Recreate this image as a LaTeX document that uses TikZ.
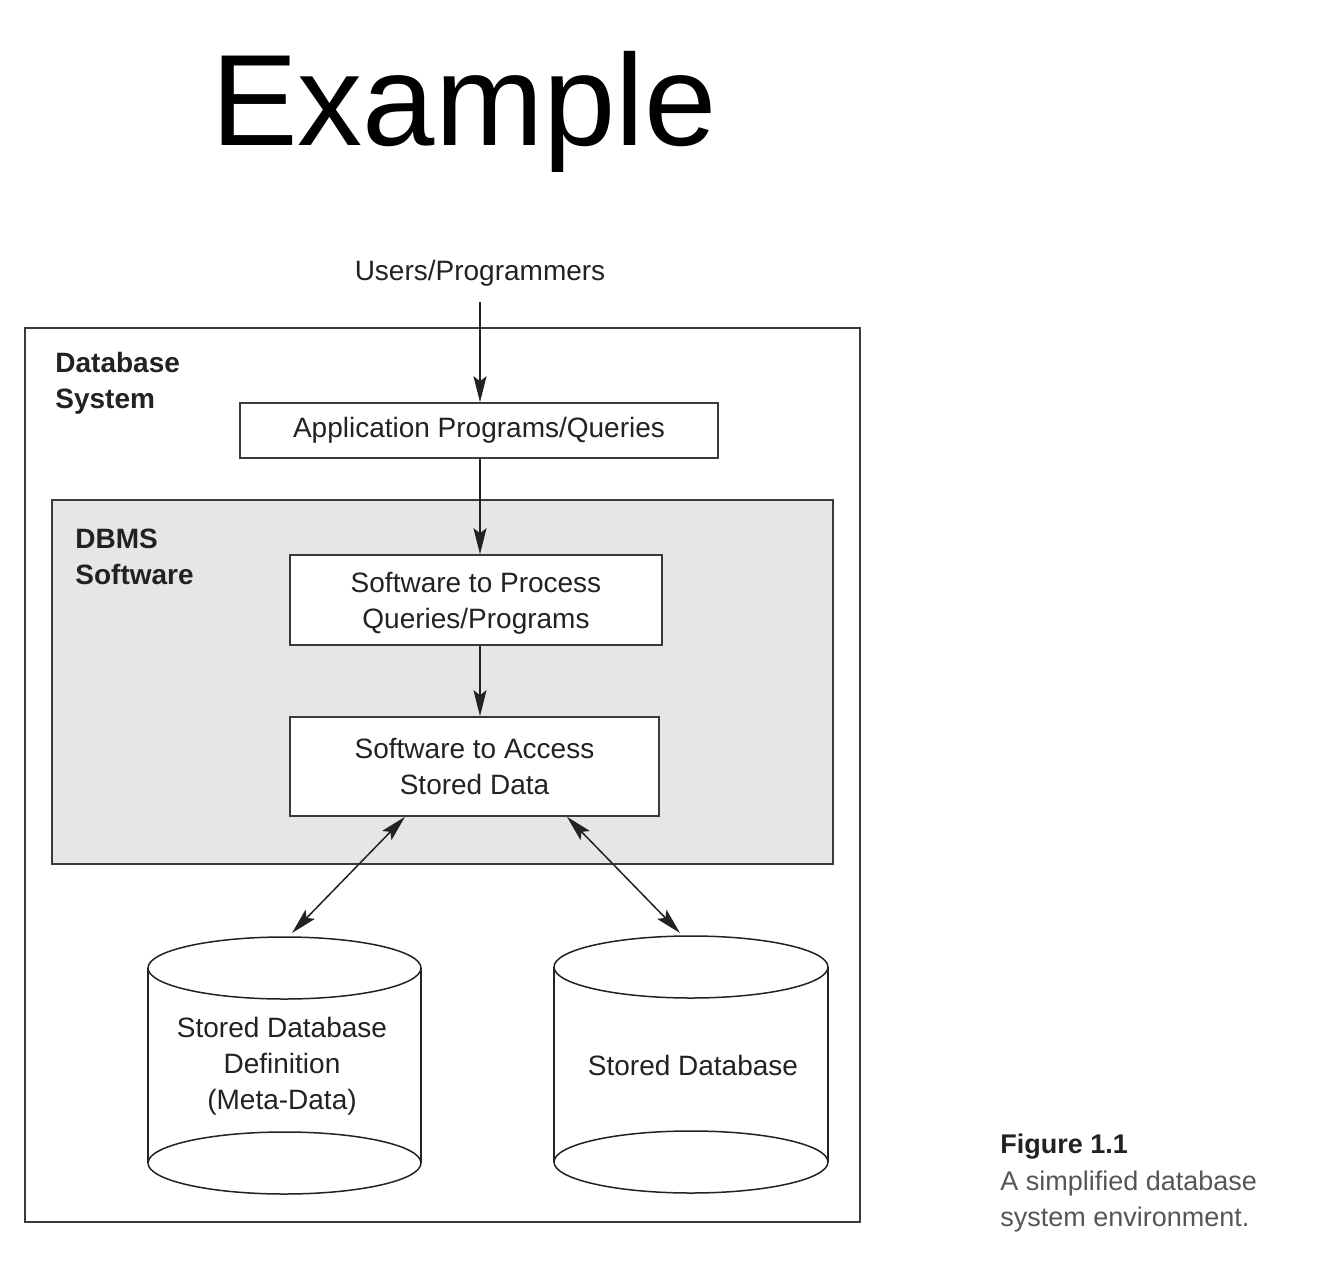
\documentclass[tikz,border=0pt]{standalone}
\usepackage{fontspec}
\setmainfont{Liberation Sans}
\usetikzlibrary{arrows.meta}
\definecolor{ink}{HTML}{222222}
\definecolor{capgray}{HTML}{555555}
\definecolor{dbmsfill}{HTML}{E6E6E6}
\definecolor{boxline}{HTML}{3A3A3A}
\tikzset{
  txt/.style={font=\fontsize{14pt}{18pt}\selectfont, text=ink, inner sep=0pt},
  boldtxt/.style={font=\fontsize{14pt}{18pt}\selectfont\bfseries, text=ink, inner sep=0pt, align=left},
  procbox/.style={draw=boxline, line width=0.8pt, fill=white, inner sep=0pt, align=center,
                  font=\fontsize{14pt}{18pt}\selectfont, text=ink},
  tip/.style={Stealth[length=13pt,width=6.5pt,inset=2.5pt]},
  arr/.style={draw=ink, line width=0.75pt, -{Stealth[length=13pt,width=6.5pt,inset=2.5pt]}},
  darr/.style={draw=ink, line width=0.75pt, {Stealth[length=13pt,width=6.5pt,inset=2.5pt]}-{Stealth[length=13pt,width=6.5pt,inset=2.5pt]}},
  cylline/.style={draw=ink, line width=0.75pt},
}
\begin{document}
\begin{tikzpicture}[x=0.5pt, y=-0.5pt]
\useasboundingbox (0,0) rectangle (1340,1270);
% title
\node[anchor=base, font=\fontsize{65pt}{78pt}\selectfont, inner sep=0pt] (title) at (464,145) {Example};
% outer box
\draw[draw=boxline, line width=0.8pt] (25,328) rectangle (860,1222);
\node[boldtxt, anchor=west] (dbsys) at (55,383) {Database\\System};
% DBMS box
\draw[draw=boxline, line width=0.8pt, fill=dbmsfill] (52,500) rectangle (833,864);
\node[boldtxt, anchor=west] (dbmssw) at (75,557) {DBMS\\Software};
% users
\node[txt] (users) at (480,273) {Users/Programmers};
\coordinate (usersend) at (480,302);
% boxes
\node[procbox, minimum width=239pt, minimum height=27.5pt, text depth=3pt] (app) at (479,430.5) {Application Programs/Queries};
\node[procbox, minimum width=186pt, minimum height=45pt] (proc) at (476,600) {\vphantom{Ag}\\[-14pt]Software to Process\\Queries/Programs};
\node[procbox, minimum width=184.5pt, minimum height=49.5pt] (acc) at (474.5,766.5) {Software to Access\\Stored Data};
% arrows
\draw[arr] (usersend) -- (usersend |- app.north);
\draw[arr] (usersend |- app.south) -- (usersend |- proc.north);
\draw[arr] (usersend |- proc.south) -- (usersend |- acc.north);
% cylinders
\foreach \cx/\rx/\ty/\by in {284.5/68.25pt/968/1163, 691/68.5pt/967/1162}{
  \draw[cylline] (\cx,\ty) ellipse [x radius=\rx, y radius=15.5pt];
  \draw[cylline] (\cx,\by) ellipse [x radius=\rx, y radius=15.5pt];
  \draw[cylline] ([xshift=-\rx]\cx,\ty) -- ([xshift=-\rx]\cx,\by);
  \draw[cylline] ([xshift=\rx]\cx,\ty) -- ([xshift=\rx]\cx,\by);
}
\coordinate (db1top) at (292,933);
\coordinate (db2top) at (680,933);
\node[txt, align=center] (db1) at (282,1066) {Stored Database\\Definition\\(Meta-Data)};
\node[txt] (db2) at (693,1065) {Stored Database};
% double arrows
\draw[darr] ([xshift=-34.75pt]acc.south) -- (db1top);
\draw[darr] ([xshift=46.25pt]acc.south) -- (db2top);
% caption
\node[anchor=base west, inner sep=0pt, font=\fontsize{13.5pt}{18pt}\selectfont\bfseries, text=ink] (figlbl) at (1000,1153) {Figure 1.1};
\node[anchor=base west, inner sep=0pt, font=\fontsize{13.5pt}{18pt}\selectfont, text=capgray] (cap1) at (1000,1190) {A simplified database};
\node[anchor=base west, inner sep=0pt, font=\fontsize{13.5pt}{18pt}\selectfont, text=capgray] (cap2) at (1000,1226) {system environment.};
\end{tikzpicture}
\end{document}
